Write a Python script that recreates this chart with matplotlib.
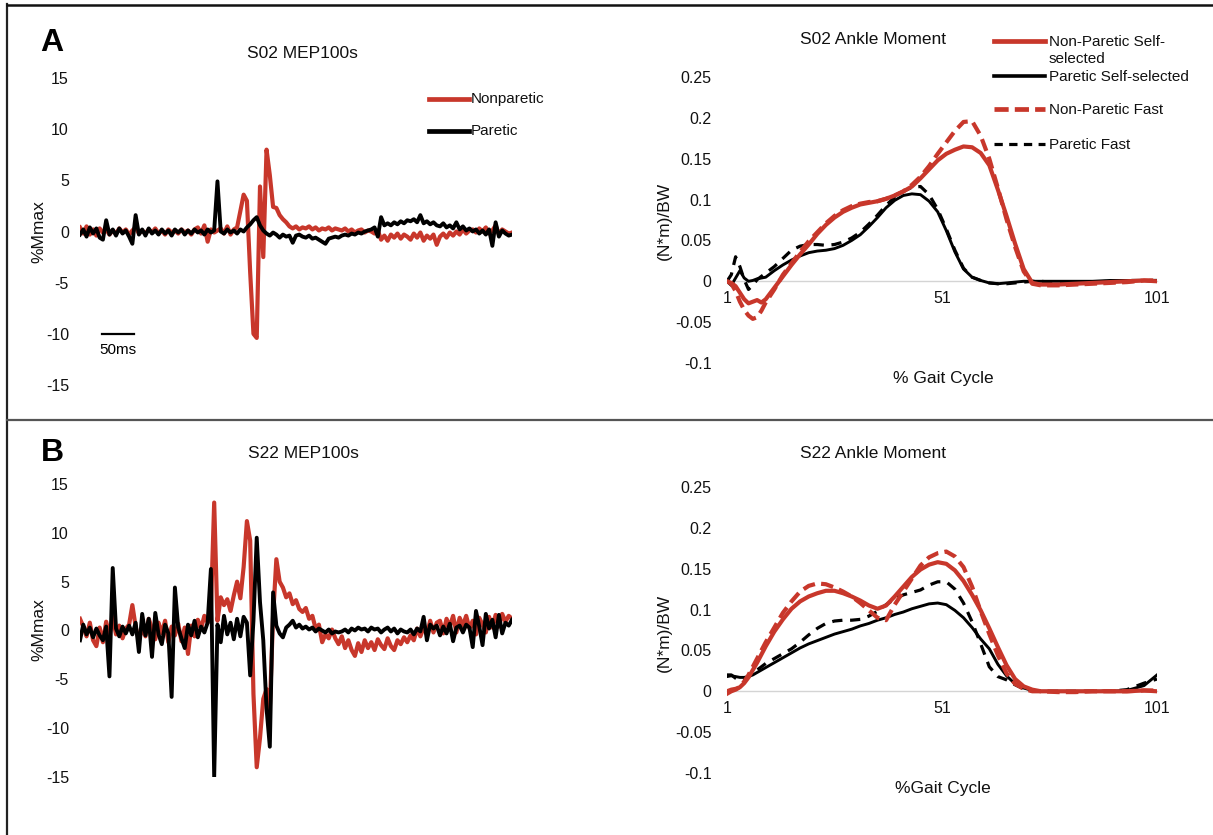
import numpy as np
import matplotlib
matplotlib.use('Agg')
import matplotlib.pyplot as plt
from matplotlib.lines import Line2D
from matplotlib.ticker import FixedLocator, FixedFormatter

plt.rcParams['font.family'] = ['Liberation Sans', 'DejaVu Sans']

# ---------------- DATA ----------------
EMG_STEP_MS = 5

# Panel A (S02) MEP traces, %Mmax, one value every 5 ms
s02_nonparetic = [
    0.4, -0.2, 0.5, -0.3, 0.2, -0.4, 0.3, -0.1, 0.2, -0.3,
    0.1, -0.2, 0.3, -0.1, 0.2, -0.3, 0.1, 0.4, -0.2, 0.1,
    -0.2, 0.2, -0.1, 0.3, -0.2, 0.1, -0.3, 0.2, -0.1, 0.1,
    -0.2, 0.2, -0.1, 0.1, -0.3, 0.2, 0.4, -0.2, 0.6, -1.0,
    0.2, -0.1, 0.1, 0.3, -0.2, 0.5, -0.3, 0.2, 0.4, 2.0,
    3.6, 3.0, -4.0, -10.0, -10.4, 4.4, -2.5, 8.0, 5.5, 2.4,
    2.3, 1.6, 1.2, 0.9, 0.5, 0.3, 0.5, 0.2, 0.4, 0.3,
    0.5, 0.2, 0.4, 0.1, 0.3, 0.2, 0.4, 0.1, 0.3, 0.2,
    0.1, 0.3, 0.0, 0.2, -0.1, 0.1, 0.2, -0.1, 0.1, 0.0,
    -0.2, 0.1, -0.8, -0.4, -0.9, -0.3, -0.6, -0.2, -0.7, -0.3,
    -0.5, -0.8, -0.2, -0.6, -0.1, -0.9, -0.4, -0.7, -0.3, -1.3,
    -0.5, -0.2, -0.6, -0.1, -0.4, 0.0, -0.3, 0.2, -0.2, 0.1,
    0.2, -0.1, 0.3, 0.0, 0.4, -0.2, 0.1, 0.6, -0.3, 0.2,
    0.0, -0.2, -0.1]
s02_paretic = [
    -0.3, 0.2, -0.5, 0.4, -0.2, 0.3, -0.6, -0.8, 1.1, -0.3,
    0.2, -0.4, 0.3, -0.2, 0.1, -0.5, -1.2, 1.6, -0.3, 0.2,
    -0.4, 0.3, -0.2, 0.1, -0.3, 0.2, -0.2, 0.1, -0.4, 0.2,
    -0.1, 0.2, -0.3, 0.1, -0.2, 0.2, -0.1, 0.1, -0.3, 0.2,
    -0.1, 0.1, 4.9, 0.0, -0.2, 0.2, -0.1, 0.1, -0.2, 0.2,
    0.0, 0.4, 0.7, 1.1, 1.4, 0.6, 0.1, -0.2, -0.4, -0.1,
    -0.3, -0.6, -0.3, -0.5, -0.4, -1.1, -0.4, -0.3, -0.5, -0.6,
    -0.4, -0.7, -0.6, -0.8, -1.0, -1.2, -0.7, -0.6, -0.5, -0.6,
    -0.4, -0.3, -0.4, -0.2, -0.3, -0.1, -0.2, 0.0, 0.1, 0.2,
    0.4, -0.5, 1.4, 0.6, 0.8, 0.6, 0.9, 0.7, 1.0, 0.8,
    1.1, 1.0, 1.2, 0.9, 1.6, 0.8, 1.0, 0.7, 0.9, 0.6,
    0.5, 0.8, 0.4, 0.6, 0.3, 0.9, 0.2, 0.5, 0.1, 0.3,
    0.0, 0.2, -0.2, 0.1, -0.3, 0.2, -1.4, 0.9, -0.5, 0.1,
    -0.2, -0.4, -0.3]

# Panel B (S22) MEP traces
s22_nonparetic = [
    1.2, 0.4, -0.6, 0.8, -1.0, -1.6, 0.3, -1.2, 0.9, -0.5,
    1.4, -0.4, 0.5, -0.8, 0.2, 0.6, 2.6, 0.4, -1.0, 0.3,
    -0.6, 1.2, 0.2, -0.9, 0.8, -0.3, 1.0, -1.2, 0.4, -0.5,
    0.7, -1.1, 0.3, -2.4, 0.5, -0.6, 1.1, 0.2, 1.5, 0.8,
    2.2, 13.1, 1.0, 3.4, 2.6, 3.2, 2.0, 3.6, 5.0, 3.3,
    6.5, 11.2, 9.2, -6.5, -14.0, -11.0, -7.0, -6.0, -8.0, 1.5,
    7.3, 5.0, 4.4, 3.4, 3.8, 2.7, 3.1, 2.2, 1.9, 2.3,
    1.2, 1.5, 0.2, 0.6, -1.2, -0.4, -0.8, 0.1, -0.8, -1.4,
    -0.6, -1.8, -1.0, -2.0, -2.6, -1.3, -2.2, -1.0, -1.8, -1.2,
    -2.0, -0.9, -1.5, -1.9, -0.8, -1.6, -2.0, -1.0, -1.4, -0.7,
    -1.2, -0.5, -1.0, 0.2, -0.6, 0.3, -0.4, 1.0, -0.2, 0.8,
    1.0, -0.3, 1.2, 0.4, 1.5, -0.2, 1.3, 0.5, 1.5, 0.2,
    1.0, -0.4, 1.3, 0.6, -0.2, 1.4, 0.3, 1.6, 0.4, 1.7,
    0.9, 1.5, 1.2]
s22_paretic = [
    -1.0, 0.6, -0.4, 0.3, -0.7, 0.2, -0.5, -1.0, 0.4, -4.7,
    6.4, 0.2, -0.6, 0.4, -0.3, 0.5, -0.4, 0.8, -2.2, 1.7,
    -0.5, 1.2, -2.7, 1.8, -0.4, -1.4, 0.6, -0.3, -6.8, 4.4,
    0.3, -0.8, -1.8, 0.6, -0.5, 1.0, -0.7, 0.4, -0.2, 0.8,
    6.3, -15.0, 0.6, -1.2, 1.5, -0.4, 0.8, -0.9, 1.2, -0.6,
    1.4, 0.8, -4.6, 1.0, 9.5, 2.9, -1.0, -8.0, -11.9, 3.9,
    0.5, -0.3, -0.7, 0.3, 0.6, 1.0, 0.3, 0.6, 0.2, 0.4,
    0.1, 0.3, -0.1, 0.2, 0.0, -0.2, 0.1, -0.3, -0.1, -0.2,
    -0.1, 0.1, -0.2, 0.2, 0.0, 0.3, 0.1, 0.2, -0.1, 0.3,
    0.1, 0.2, -0.2, 0.1, 0.3, -0.1, 0.2, -0.3, 0.1, -0.1,
    -0.2, 0.1, -0.4, 0.2, -0.1, 1.4, -1.0, 0.6, 0.2, 0.5,
    -0.5, 0.4, -0.3, 0.7, -1.1, 0.3, 0.5, -0.2, 0.6, 0.3,
    -1.7, 2.0, 0.4, -1.5, 1.7, 0.2, 1.1, -0.7, 1.6, -0.3,
    0.8, 0.5, 1.1]

emg_yticks = [-15, -10, -5, 0, 5, 10, 15]
emg_yticklabels = ['-15', '-10', '-5', '0', '5', '10', '15']

# Ankle moment, (N*m)/BW vs % gait cycle
gait = [1, 2, 3, 4, 5, 6, 7, 8, 9, 10,
        12, 14, 16, 18, 20, 22, 24, 26, 28, 30,
        32, 34, 36, 38, 40, 42, 44, 46, 48, 50,
        52, 54, 56, 58, 60, 62, 64, 66, 68, 70,
        72, 74, 78, 82, 86, 90, 94, 98, 101]

s02_np_ss = [0.000, -0.002, -0.006, -0.014, -0.022, -0.027, -0.025, -0.023, -0.026, -0.022,
             -0.008, 0.006, 0.020, 0.033, 0.045, 0.058, 0.069, 0.078, 0.085, 0.090,
             0.094, 0.096, 0.098, 0.101, 0.105, 0.110, 0.116, 0.126, 0.137, 0.148,
             0.156, 0.161, 0.165, 0.164, 0.157, 0.142, 0.112, 0.080, 0.046, 0.015,
             -0.002, -0.004, -0.004, -0.003, -0.002, -0.001, 0.000, 0.001, 0.000]
s02_p_ss = [0.000, -0.005, 0.004, 0.013, 0.004, 0.000, 0.001, 0.003, 0.004, 0.005,
            0.013, 0.020, 0.026, 0.031, 0.035, 0.037, 0.038, 0.040, 0.044, 0.050,
            0.057, 0.067, 0.078, 0.090, 0.099, 0.105, 0.107, 0.106, 0.098, 0.085,
            0.062, 0.036, 0.015, 0.005, 0.001, -0.002, -0.003, -0.002, -0.001, 0.000,
            0.000, 0.000, 0.000, 0.000, 0.000, 0.001, 0.001, 0.001, 0.000]
s02_np_fast = [0.000, -0.003, -0.012, -0.025, -0.035, -0.042, -0.046, -0.044, -0.036, -0.026,
               -0.010, 0.008, 0.022, 0.036, 0.049, 0.060, 0.071, 0.080, 0.087, 0.092,
               0.095, 0.097, 0.098, 0.101, 0.105, 0.110, 0.118, 0.128, 0.141, 0.156,
               0.170, 0.184, 0.195, 0.196, 0.178, 0.150, 0.114, 0.076, 0.042, 0.012,
               -0.003, -0.005, -0.005, -0.004, -0.003, -0.002, -0.001, 0.001, 0.001]
s02_p_fast = [0.000, 0.008, 0.030, 0.018, 0.002, -0.010, -0.005, 0.002, 0.006, 0.010,
              0.018, 0.028, 0.038, 0.043, 0.045, 0.045, 0.044, 0.045, 0.048, 0.053,
              0.060, 0.070, 0.081, 0.093, 0.103, 0.110, 0.115, 0.116, 0.106, 0.088,
              0.064, 0.038, 0.016, 0.005, 0.001, -0.002, -0.003, -0.003, -0.002, -0.001,
              0.000, 0.000, -0.002, -0.002, -0.001, 0.000, 0.001, 0.001, 0.001]

s22_np_ss = [-0.003, 0.000, 0.002, 0.005, 0.010, 0.017, 0.026, 0.035, 0.045, 0.055,
             0.073, 0.088, 0.101, 0.110, 0.116, 0.120, 0.123, 0.123, 0.120, 0.116,
             0.111, 0.105, 0.101, 0.105, 0.116, 0.128, 0.140, 0.149, 0.155, 0.158,
             0.156, 0.148, 0.135, 0.118, 0.099, 0.077, 0.054, 0.032, 0.015, 0.006,
             0.002, 0.000, 0.000, 0.000, 0.000, 0.000, 0.000, 0.001, 0.000]
s22_p_ss = [0.018, 0.019, 0.018, 0.017, 0.017, 0.018, 0.020, 0.023, 0.026, 0.029,
            0.035, 0.041, 0.047, 0.053, 0.058, 0.062, 0.066, 0.070, 0.073, 0.076,
            0.080, 0.083, 0.087, 0.090, 0.094, 0.097, 0.101, 0.104, 0.107, 0.108,
            0.106, 0.099, 0.090, 0.078, 0.064, 0.052, 0.033, 0.019, 0.009, 0.004,
            0.001, 0.000, 0.000, 0.000, 0.000, 0.000, 0.001, 0.007, 0.020]
s22_np_fast = [0.000, 0.002, 0.003, 0.005, 0.012, 0.020, 0.030, 0.040, 0.050, 0.060,
               0.078, 0.096, 0.110, 0.122, 0.129, 0.132, 0.131, 0.127, 0.122, 0.116,
               0.108, 0.099, 0.090, 0.087, 0.106, 0.122, 0.138, 0.154, 0.164, 0.169,
               0.171, 0.165, 0.152, 0.128, 0.098, 0.070, 0.044, 0.022, 0.009, 0.003,
               0.000, 0.000, -0.001, -0.001, 0.000, 0.000, 0.000, 0.001, 0.001]
s22_p_fast = [0.020, 0.020, 0.016, 0.013, 0.014, 0.018, 0.022, 0.026, 0.030, 0.034,
              0.040, 0.046, 0.052, 0.060, 0.069, 0.077, 0.083, 0.086, 0.087, 0.087,
              0.088, 0.092, 0.098, 0.106, 0.113, 0.118, 0.121, 0.124, 0.130, 0.134,
              0.134, 0.125, 0.108, 0.085, 0.058, 0.030, 0.018, 0.014, 0.008, 0.003,
              0.000, 0.000, 0.000, 0.000, 0.000, 0.000, 0.002, 0.010, 0.015]

mom_yticks = [-0.1, -0.05, 0, 0.05, 0.1, 0.15, 0.2, 0.25]
mom_yticklabels = ['-0.1', '-0.05', '0', '0.05', '0.1', '0.15', '0.2', '0.25']
gait_ticks = [1, 51, 101]

legend_emg = ['Nonparetic', 'Paretic']
legend_mom = ['Non-Paretic Self-\nselected', 'Paretic Self-selected',
              'Non-Paretic Fast', 'Paretic Fast']

# ---------------- STYLE ----------------
RED = '#c8372b'
BLK = '#000000'
W, H = 1213, 835
fig = plt.figure(figsize=(W / 100, H / 100), dpi=100)


def rect(x0, y0, x1, y1):
    return [x0 / W, 1 - y1 / H, (x1 - x0) / W, (y1 - y0) / H]


def fx(x):
    return x / W


def fy(y):
    return 1 - y / H


def emg_axes(r, red, black):
    ax = fig.add_axes(r)
    t = np.arange(len(red)) * EMG_STEP_MS
    ax.plot(t, red, color=RED, lw=3.0, solid_joinstyle='round')
    t2 = np.arange(len(black)) * EMG_STEP_MS
    ax.plot(t2, black, color=BLK, lw=2.8, solid_joinstyle='round')
    ax.set_xlim(0, (len(red) - 1) * EMG_STEP_MS)
    ax.set_ylim(-15, 15)
    ax.yaxis.set_major_locator(FixedLocator(emg_yticks))
    ax.yaxis.set_major_formatter(FixedFormatter(emg_yticklabels))
    ax.set_xticks([])
    ax.tick_params(axis='y', length=0, pad=8, labelsize=11.5, labelcolor='#111111')
    for s in ax.spines.values():
        s.set_visible(False)
    ax.patch.set_alpha(0)
    return ax


def mom_axes(r, np_ss, p_ss, np_fast, p_fast):
    ax = fig.add_axes(r)
    ax.plot(gait, p_fast, color=BLK, lw=2.3, dashes=(3.2, 2.4))
    ax.plot(gait, p_ss, color=BLK, lw=2.1)
    ax.plot(gait, np_fast, color=RED, lw=3.0, dashes=(3.0, 1.5))
    ax.plot(gait, np_ss, color=RED, lw=3.0)
    ax.set_xlim(1, 101)
    ax.set_ylim(-0.1, 0.25)
    ax.yaxis.set_major_locator(FixedLocator(mom_yticks))
    ax.yaxis.set_major_formatter(FixedFormatter(mom_yticklabels))
    ax.set_xticks(gait_ticks)
    ax.set_xticklabels([str(g) for g in gait_ticks])
    ax.tick_params(axis='y', length=0, pad=11, labelsize=11.5, labelcolor='#111111')
    ax.tick_params(axis='x', length=0, pad=7, labelsize=11.5, labelcolor='#111111')
    for k in ['top', 'right', 'left']:
        ax.spines[k].set_visible(False)
    ax.spines['bottom'].set_position(('data', 0))
    ax.spines['bottom'].set_color('#d4d4d4')
    ax.spines['bottom'].set_linewidth(1.0)
    ax.spines['bottom'].set_zorder(0)
    ax.patch.set_alpha(0)
    return ax


# Panel A
axA1 = emg_axes(rect(80, 78, 512, 385), s02_nonparetic, s02_paretic)
axA2 = mom_axes(rect(727, 77, 1157, 363), s02_np_ss, s02_p_ss, s02_np_fast, s02_p_fast)
# Panel B
axB1 = emg_axes(rect(80, 484, 512, 777), s22_nonparetic, s22_paretic)
axB2 = mom_axes(rect(727, 487, 1157, 773), s22_np_ss, s22_p_ss, s22_np_fast, s22_p_fast)

# scale bar 50 ms
axA1.plot([33, 83], [-10, -10], color=BLK, lw=1.6)
axA1.text(58, -10.9, '50ms', ha='center', va='top', fontsize=11)

# Titles and labels
tkw = dict(ha='center', va='center', fontsize=12.5, color='#111111')
fig.text(fx(302), fy(54), 'S02 MEP100s', **tkw)
fig.text(fx(303), fy(453), 'S22 MEP100s', **tkw)
fig.text(fx(873), fy(40), 'S02 Ankle Moment', **tkw)
fig.text(fx(873), fy(453), 'S22 Ankle Moment', **tkw)

fig.text(fx(52), fy(43), 'A', ha='center', va='center', fontsize=23, fontweight='bold')
fig.text(fx(52), fy(453), 'B', ha='center', va='center', fontsize=23, fontweight='bold')

lkw = dict(ha='center', va='center', fontsize=12.5, rotation=90, color='#111111')
fig.text(fx(39), fy(232), '%Mmax', **lkw)
fig.text(fx(39), fy(630), '%Mmax', **lkw)
fig.text(fx(664), fy(221), '(N*m)/BW', **lkw)
fig.text(fx(664), fy(633), '(N*m)/BW', **lkw)
fig.text(fx(943), fy(378), '% Gait Cycle', ha='center', va='center', fontsize=12.5, color='#111111')
fig.text(fx(943), fy(788), '%Gait Cycle', ha='center', va='center', fontsize=12.5, color='#111111')

# EMG legend (panel A)
for (yy, col, lab) in [(99, RED, legend_emg[0]), (131, BLK, legend_emg[1])]:
    fig.add_artist(Line2D([fx(429), fx(469)], [fy(yy), fy(yy)], color=col, lw=3.4))
    fig.text(fx(471), fy(yy), lab, ha='left', va='center', fontsize=11, color='#111111')

# Moment legend (panel A)
mleg = [(41, RED, None, 3.4, legend_mom[0]),
        (76, BLK, None, 2.6, legend_mom[1]),
        (109, RED, (3.0, 1.3), 3.4, legend_mom[2]),
        (144, BLK, (2.6, 2.0), 2.3, legend_mom[3])]
for (yy, col, dsh, lw, lab) in mleg:
    ln = Line2D([fx(994), fx(1045)], [fy(yy), fy(yy)], color=col, lw=lw)
    if dsh is not None:
        ln.set_dashes(dsh)
    fig.add_artist(ln)
    fig.text(fx(1049), fy(yy - 6), lab, ha='left', va='top', fontsize=11,
             color='#111111', linespacing=1.25)

# frame lines
fig.add_artist(Line2D([fx(7), fx(7)], [fy(4), fy(835)], color='#222222', lw=1.6))
fig.add_artist(Line2D([fx(7), fx(1213)], [fy(5), fy(5)], color='#111111', lw=1.8))
fig.add_artist(Line2D([fx(7), fx(1213)], [fy(420), fy(420)], color='#555555', lw=1.6))

fig.savefig('out.png', dpi=100)
